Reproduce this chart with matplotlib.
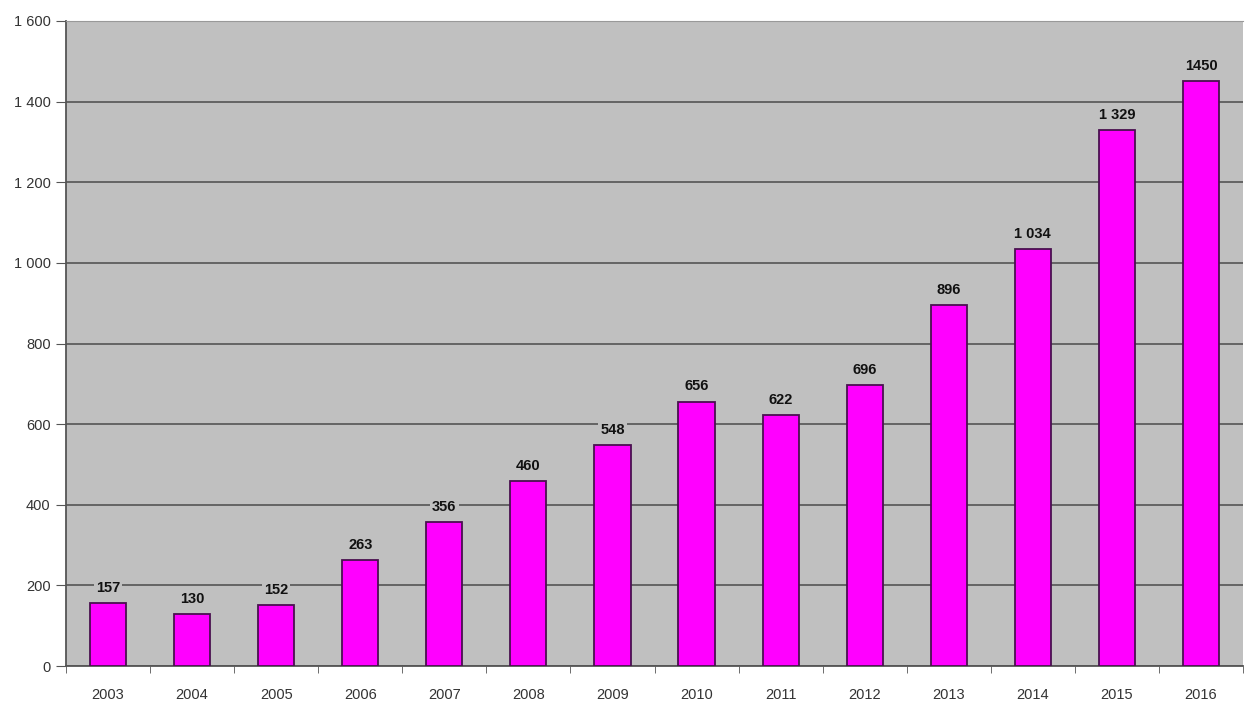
import matplotlib.pyplot as plt
import numpy as np

years = ['2003', '2004', '2005', '2006', '2007', '2008', '2009',
         '2010', '2011', '2012', '2013', '2014', '2015', '2016']
values = [157, 130, 152, 263, 356, 460, 548, 656, 622, 696, 896, 1034, 1329, 1450]
value_labels = ['157', '130', '152', '263', '356', '460', '548',
                '656', '622', '696', '896', '1 034', '1 329', '1450']
y_ticks = [0, 200, 400, 600, 800, 1000, 1200, 1400, 1600]
y_tick_labels = ['0', '200', '400', '600', '800', '1 000', '1 200', '1 400', '1 600']

plt.rcParams['font.family'] = ['Liberation Sans', 'DejaVu Sans']

fig = plt.figure(figsize=(12.45, 7.02), dpi=100)
ax = fig.add_axes([66 / 1245, 1 - 666 / 702, 1177 / 1245, 645 / 702])
ax.set_facecolor('#C0C0C0')

x = np.arange(len(years))
ax.bar(x, values, width=0.43, color='#FF00FF', edgecolor='#4A1050', linewidth=1.3, zorder=3)

for xi, v, lab in zip(x, values, value_labels):
    ax.text(xi, v + 20, lab, ha='center', va='bottom', fontsize=10.5, fontweight='bold',
            color='#111111', zorder=4,
            bbox=dict(facecolor='#C0C0C0', edgecolor='none', pad=1.5))

ax.set_xlim(-0.5, len(years) - 0.5)
ax.set_ylim(0, 1600)
ax.set_yticks(y_ticks)
ax.set_yticklabels(y_tick_labels)
ax.yaxis.grid(True, color='#555555', linewidth=1.2, zorder=1)
ax.set_axisbelow(True)

ax.set_xticks(x)
ax.set_xticklabels(years)
ax.set_xticks(np.arange(len(years) + 1) - 0.5, minor=True)
ax.tick_params(axis='x', which='major', length=0, pad=16, labelsize=10.5, labelcolor='#333333')
ax.tick_params(axis='x', which='minor', length=5, color='#555555', direction='out')
ax.tick_params(axis='y', length=7, color='#555555', labelsize=10.5, labelcolor='#333333', pad=4)

for side in ['left', 'bottom']:
    ax.spines[side].set_color('#555555')
    ax.spines[side].set_linewidth(1.3)
ax.spines['top'].set_color('#999999')
ax.spines['right'].set_visible(False)

fig.savefig('out.png', dpi=100)
